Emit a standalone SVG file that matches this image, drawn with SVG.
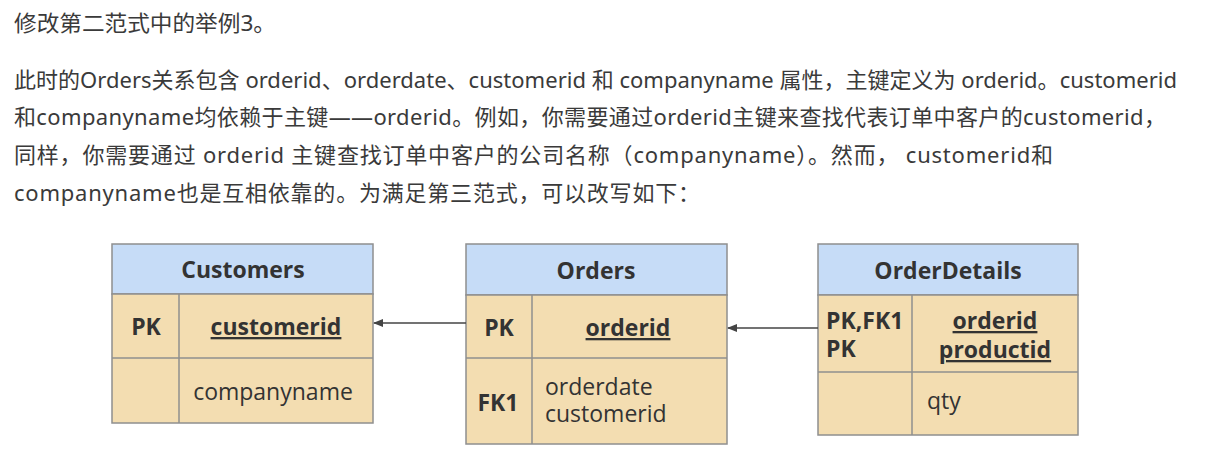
<svg xmlns="http://www.w3.org/2000/svg" width="1219" height="467" viewBox="0 0 1219 467">
<defs>
<marker id="arr" markerWidth="10" markerHeight="8" refX="9" refY="4" orient="auto" markerUnits="userSpaceOnUse">
<path d="M0,0 L10,4 L0,8 Z" fill="#444"/>
</marker>
<style>
.p{font-family:"Noto Sans","Noto Sans CJK SC",sans-serif;font-size:22px;fill:#3a3a3a}
.hd{fill:#c6dcf7;stroke:#8f8f8f;stroke-width:1.5}
.bd{fill:#f3ddb1;stroke:#8f8f8f;stroke-width:1.5}
.ln{stroke:#8f8f8f;stroke-width:1.5}
.t{font-family:"Open Sans","Noto Sans",sans-serif;font-size:23px;fill:#333}
.b{font-weight:bold}
.u{text-decoration:underline}
.m{text-anchor:middle}
.c{stroke:#444;stroke-width:1.5;fill:none}
</style>
</defs>
<rect width="1219" height="467" fill="#ffffff"/>
<g id="text">
<text class="p" x="14" y="31" textLength="262" lengthAdjust="spacingAndGlyphs">修改第二范式中的举例3。</text>
<text class="p" x="14" y="88" textLength="1163" lengthAdjust="spacing">此时的Orders关系包含 orderid、orderdate、customerid 和 companyname 属性，主键定义为 orderid。customerid</text>
<text class="p" x="14" y="125" textLength="1152" lengthAdjust="spacing">和companyname均依赖于主键——orderid。例如，你需要通过orderid主键来查找代表订单中客户的customerid，</text>
<text class="p" x="14" y="163" textLength="1039" lengthAdjust="spacing">同样，你需要通过 orderid 主键查找订单中客户的公司名称（companyname）。然而， customerid和</text>
<text class="p" x="14" y="201" textLength="686" lengthAdjust="spacing">companyname也是互相依靠的。为满足第三范式，可以改写如下：</text>
</g>
<g id="customers">
<rect class="hd" x="112" y="244" width="261" height="50"/>
<rect class="bd" x="112" y="294" width="261" height="129"/>
<line class="ln" x1="112" y1="358" x2="373" y2="358"/>
<line class="ln" x1="179" y1="294" x2="179" y2="423"/>
<text class="t b m" x="243" y="278">Customers</text>
<text class="t b m" x="146" y="335">PK</text>
<text class="t b m u" x="276" y="335">customerid</text>
<text class="t m" x="273" y="400">companyname</text>
</g>
<g id="orders">
<rect class="hd" x="466" y="244" width="261" height="51"/>
<rect class="bd" x="466" y="295" width="261" height="149"/>
<line class="ln" x1="466" y1="358" x2="727" y2="358"/>
<line class="ln" x1="532" y1="295" x2="532" y2="444"/>
<text class="t b m" x="596" y="279">Orders</text>
<text class="t b m" x="499" y="336">PK</text>
<text class="t b m u" x="628" y="336">orderid</text>
<text class="t b m" x="498" y="411">FK1</text>
<text class="t" x="545" y="395">orderdate</text>
<text class="t" x="545" y="422">customerid</text>
</g>
<g id="orderdetails">
<rect class="hd" x="818" y="244" width="260" height="51"/>
<rect class="bd" x="818" y="295" width="260" height="140"/>
<line class="ln" x1="818" y1="372" x2="1078" y2="372"/>
<line class="ln" x1="912" y1="295" x2="912" y2="435"/>
<text class="t b m" x="948" y="279">OrderDetails</text>
<text class="t b" x="826" y="329">PK,FK1</text>
<text class="t b" x="826" y="357">PK</text>
<text class="t b m u" x="995" y="329">orderid</text>
<text class="t b m u" x="995" y="358">productid</text>
<text class="t" x="927" y="409">qty</text>
</g>
<g id="connectors">
<line class="c" x1="466" y1="323" x2="374" y2="323" marker-end="url(#arr)"/>
<line class="c" x1="818" y1="328" x2="728" y2="328" marker-end="url(#arr)"/>
</g>
</svg>
